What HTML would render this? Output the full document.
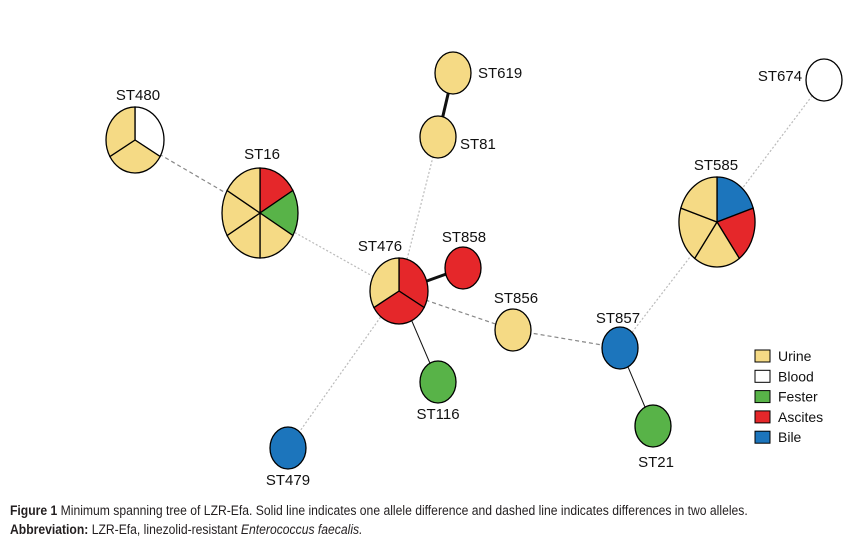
<!DOCTYPE html>
<html><head><meta charset="utf-8"><style>
body{margin:0;background:#fff;width:854px;height:547px;overflow:hidden;font-family:"Liberation Sans",Arial,sans-serif}
.cap{position:absolute;left:10px;font-family:"Liberation Sans Narrow","Liberation Sans",sans-serif;font-size:13.5px;color:#231f20;white-space:nowrap;transform:scaleX(0.9);transform-origin:0 0}
</style></head><body>
<svg id="chart" width="854" height="500" style="position:absolute;left:0;top:0"></svg>
<div class="cap" style="top:503px"><b>Figure 1</b> Minimum spanning tree of LZR-Efa. Solid line indicates one allele difference and dashed line indicates differences in two alleles.</div>
<div class="cap" style="top:522px"><b>Abbreviation:</b> LZR-Efa, linezolid-resistant <i>Enterococcus faecalis.</i></div>
<script>
const categories=["Urine","Blood","Fester","Ascites","Bile"];
const colors={Urine:"#F5DA85",Blood:"#ffffff",Fester:"#58B348",Ascites:"#E5272A",Bile:"#1C75BC"};
const nodeNames=["ST480","ST16","ST619","ST81","ST476","ST858","ST856","ST857","ST21","ST116","ST479","ST585","ST674"];
const nodeX=[135,260,453,438,399,463,513,620,653,438,288,717,824];
const nodeY=[140,213,73,137,291,268,330,348,426,382,448,222,80];
const nodeSlices=[["Blood","Urine","Urine"],["Ascites","Fester","Urine","Urine","Urine","Urine"],["Urine"],["Urine"],["Ascites","Ascites","Urine"],["Ascites"],["Urine"],["Bile"],["Fester"],["Fester"],["Bile"],["Bile","Ascites","Urine","Urine","Urine"],["Blood"]];
const edges=[["ST619","ST81","thick"],["ST81","ST476","dot"],["ST480","ST16","dash"],["ST16","ST476","dot"],["ST476","ST858","thick"],["ST476","ST856","dash"],["ST856","ST857","dash"],["ST857","ST585","dot"],["ST585","ST674","dot"],["ST857","ST21","solid"],["ST476","ST116","solid"],["ST476","ST479","dot"]];
const labelPos={ST480:[138,100,"middle"],ST16:[262,159,"middle"],ST619:[478,78,"start"],ST81:[460,149,"start"],ST476:[380,251,"middle"],ST858:[464,242,"middle"],ST856:[516,303,"middle"],ST857:[618,323,"middle"],ST21:[656,467,"middle"],ST116:[438,419,"middle"],ST479:[288,485,"middle"],ST585:[716,170,"middle"],ST674:[780,81,"middle"]};
const svg=document.getElementById('chart');const NS="http://www.w3.org/2000/svg";
function mk(t,a){const e=document.createElementNS(NS,t);for(const k in a)e.setAttribute(k,a[k]);svg.appendChild(e);return e;}
function rad(n){return n>=5?[38,45]:n>=3?[29,33]:[18,21];}
const idx=n=>nodeNames.indexOf(n);
edges.forEach(e=>{const a=idx(e[0]),b=idx(e[1]);
 const st=e[2]=="thick"?{stroke:"#111","stroke-width":3}:e[2]=="solid"?{stroke:"#111","stroke-width":1}:e[2]=="dash"?{stroke:"#888","stroke-width":1.2,"stroke-dasharray":"4,3"}:{stroke:"#bbb","stroke-width":1.2,"stroke-dasharray":"2,2"};
 const l=mk('line',Object.assign({x1:nodeX[a],y1:nodeY[a],x2:nodeX[b],y2:nodeY[b]},st));
 
 });
nodeNames.forEach((n,i)=>{const s=nodeSlices[i];const [rx,ry]=rad(s.length);const cx=nodeX[i],cy=nodeY[i];
 if(s.length==1){const c=mk('ellipse',{cx,cy,rx,ry,fill:colors[s[0]],stroke:"#000","stroke-width":1.3});
  
  }
 else{s.forEach((cat,k)=>{const a0=-Math.PI/2+k*2*Math.PI/s.length,a1=a0+2*Math.PI/s.length;
  const p=mk('path',{d:`M${cx},${cy}L${cx+rx*Math.cos(a0)},${cy+ry*Math.sin(a0)}A${rx},${ry} 0 0 1 ${cx+rx*Math.cos(a1)},${cy+ry*Math.sin(a1)}Z`,fill:colors[cat],stroke:"#000","stroke-width":1.3});
  
  });}
 const lp=labelPos[n];const t=mk('text',{x:lp[0],y:lp[1],"text-anchor":lp[2],"font-size":15,fill:"#111"});t.textContent=n;
 
 });
categories.forEach((c,k)=>{const y=350+k*20.3;
 const r=mk('rect',{x:755,y:y,width:15,height:12,fill:colors[c],stroke:"#000","stroke-width":1});
 
 
 const t=mk('text',{x:778,y:y+11,"font-size":14,fill:"#111"});t.textContent=c;
 
 });
</script>
</body></html>
